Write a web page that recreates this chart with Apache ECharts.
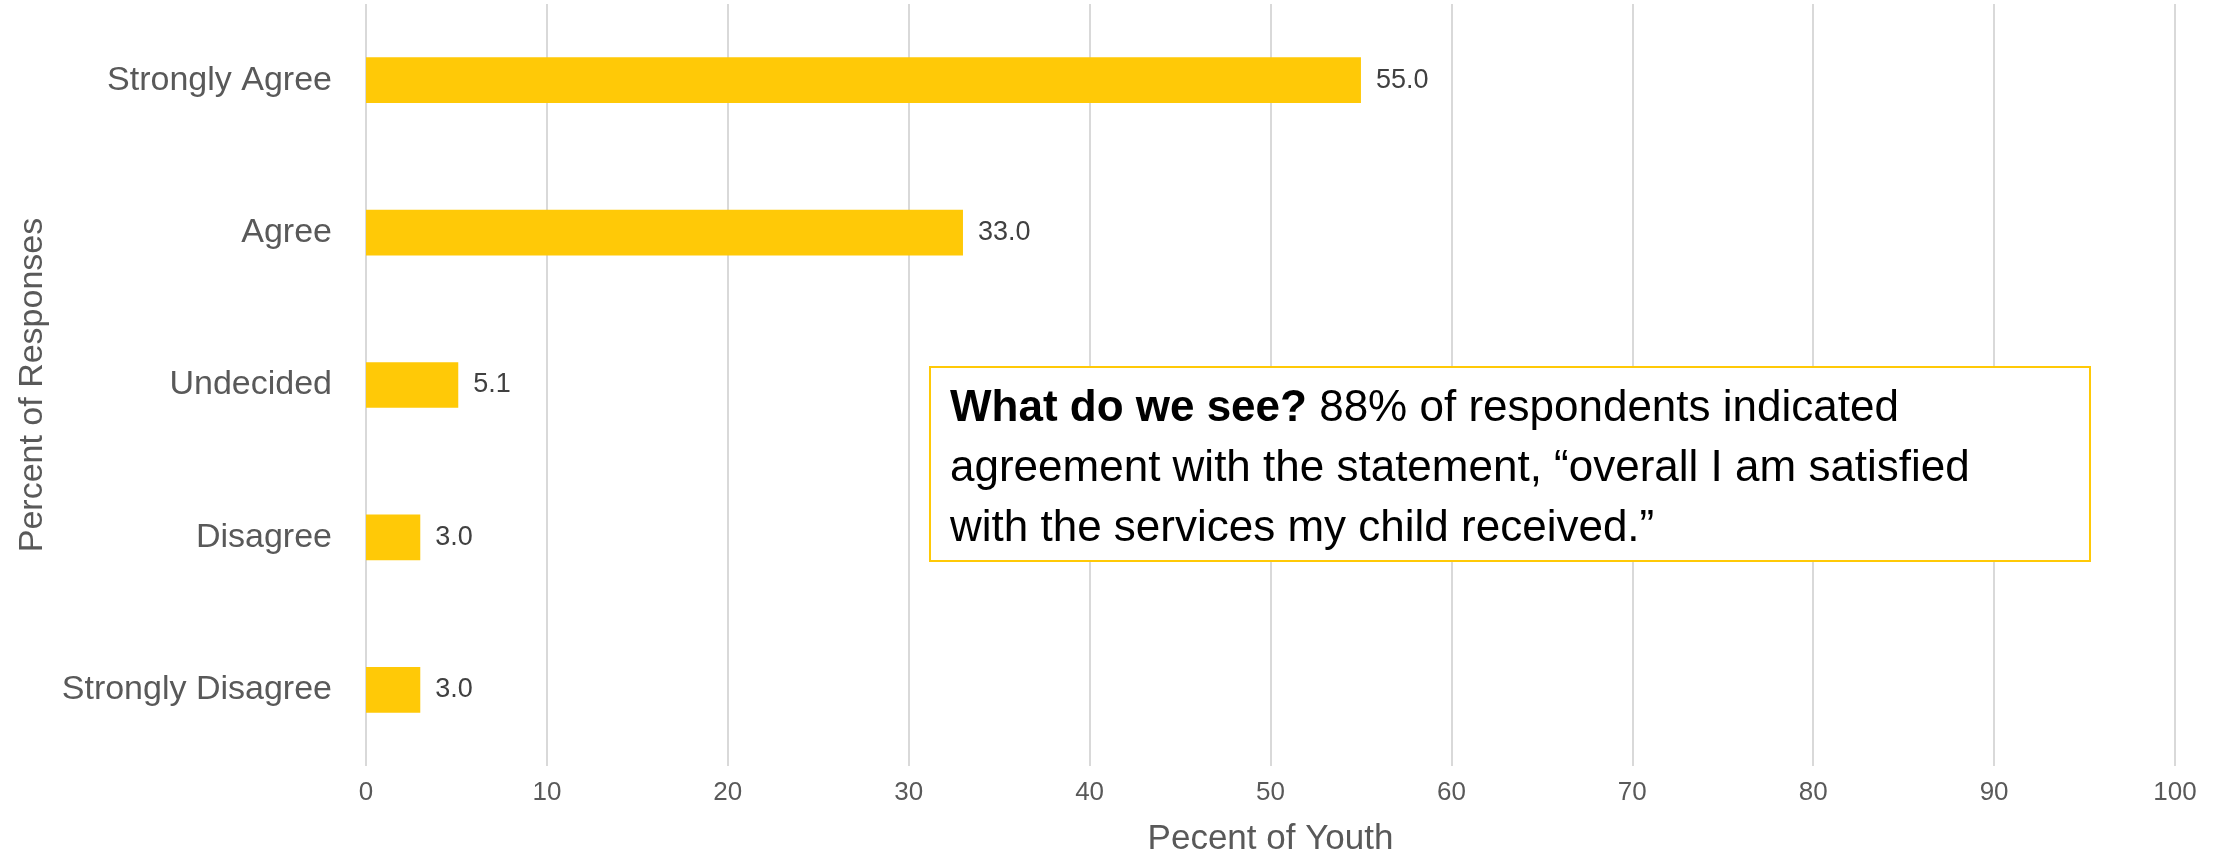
<!DOCTYPE html>
<html>
<head>
<meta charset="utf-8">
<script src="https://cdn.jsdelivr.net/npm/echarts@6/dist/echarts.min.js"></script>
<style>
  html, body { margin: 0; padding: 0; background: #ffffff; }
  #chart { width: 2225px; height: 856px; }
</style>
</head>
<body>
<div id="chart"></div>
<script>
// Survey response categories, top to bottom
const categories = ['Strongly Agree', 'Agree', 'Undecided', 'Disagree', 'Strongly Disagree'];
// Percent of youth giving each response
const percents = [55.0, 33.0, 5.1, 3.0, 3.0];
// Horizontal axis ticks
const xTicks = [0, 10, 20, 30, 40, 50, 60, 70, 80, 90, 100];

const FONT = '"Liberation Sans", Arial, sans-serif';
const GOLD = '#FFC907';

const chart = echarts.init(document.getElementById('chart'), null, { renderer: 'canvas' });

chart.setOption({
  backgroundColor: '#ffffff',
  animation: false,
  grid: { left: 366, right: 50, top: 4, bottom: 90, containLabel: false, outerBoundsMode: 'none' },
  xAxis: {
    type: 'value',
    min: xTicks[0],
    max: xTicks[xTicks.length - 1],
    interval: xTicks[1] - xTicks[0],
    name: 'Pecent of Youth',
    nameLocation: 'middle',
    nameGap: 56,
    nameTextStyle: { fontFamily: FONT, fontSize: 35, color: '#595959' },
    axisLine: { show: false },
    axisTick: { show: false },
    axisLabel: { fontFamily: FONT, fontSize: 26, color: '#595959', margin: 14 },
    splitLine: { show: true, lineStyle: { color: '#d9d9d9', width: 2 } }
  },
  yAxis: {
    type: 'category',
    data: categories,
    inverse: true,
    name: 'Percent of Responses',
    nameLocation: 'middle',
    nameGap: 316,
    nameRotate: 90,
    nameTextStyle: { fontFamily: FONT, fontSize: 34, color: '#595959' },
    axisLine: { show: false },
    axisTick: { show: false },
    axisLabel: { fontFamily: FONT, fontSize: 34, color: '#595959', margin: 34 },
    splitLine: { show: false }
  },
  series: [{
    type: 'bar',
    data: percents,
    barWidth: '30%',
    itemStyle: { color: GOLD },
    label: {
      show: true,
      position: 'right',
      distance: 15,
      formatter: p => p.value.toFixed(1),
      fontFamily: FONT,
      fontSize: 27,
      color: '#404040'
    }
  }],
  graphic: [{
    type: 'group',
    left: 929,
    top: 366,
    z: 100,
    children: [{
      type: 'rect',
      z: 100,
      shape: { x: 0, y: 0, width: 1160, height: 194 },
      style: { fill: '#ffffff', stroke: GOLD, lineWidth: 2 }
    }, {
      type: 'text',
      z: 101,
      x: 20,
      y: 12,
      style: {
        text: '{b|What do we see?} 88% of respondents indicated\nagreement with the statement, \u201coverall I am satisfied\nwith the services my child received.\u201d',
        fontFamily: FONT,
        fontSize: 44,
        lineHeight: 60,
        fill: '#000000',
        rich: {
          b: { fontFamily: FONT, fontSize: 44, fontWeight: 'bold', fill: '#000000', lineHeight: 60 }
        }
      }
    }]
  }]
});
</script>
</body>
</html>
